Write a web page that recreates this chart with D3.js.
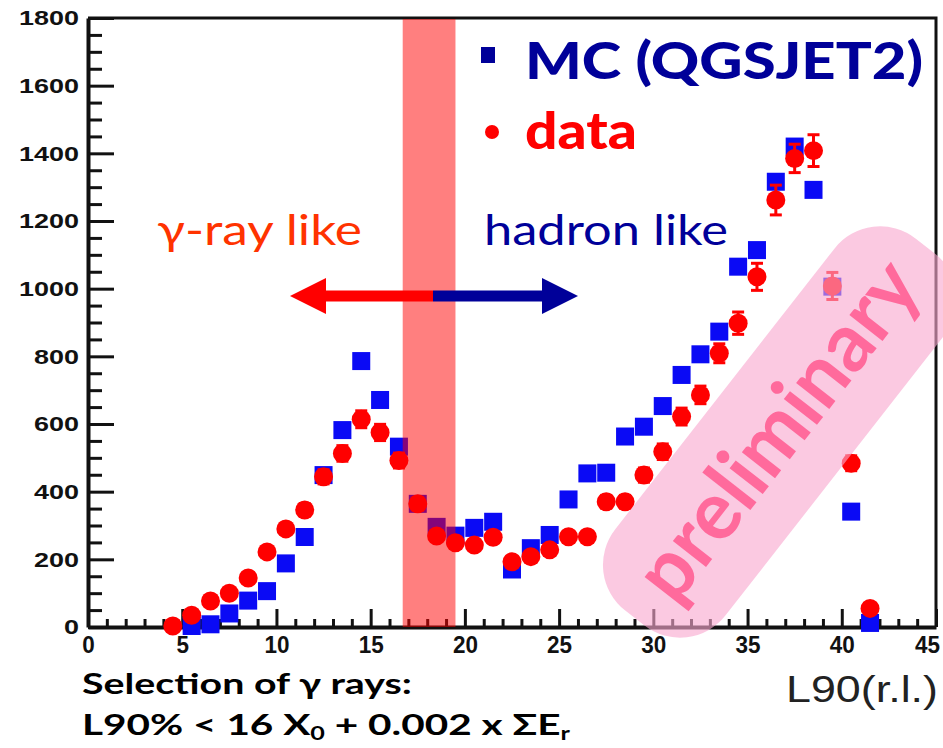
<!DOCTYPE html>
<html lang="en">
<head>
    <meta charset="UTF-8">
    <title>L90 distribution: MC vs data</title>
    <script src="https://d3js.org/d3.v7.min.js"></script>
    <style>
        body {
            margin: 0;
            background: #fff;
        }
        svg {
            display: block;
        }
        .lbl {
            font-family: Lato, "DejaVu Sans", sans-serif;
        }
    </style>
</head>
<body>
    <div id="chart"></div>
    <script>
        // bin centres along L90 (r.l.)
        const mcBins = [5.5, 6.5, 7.5, 8.5, 9.5, 10.5, 11.5, 12.5, 13.5, 14.5, 15.5, 16.5, 17.5, 18.5, 19.5,
            20.5, 21.5, 22.5, 23.5, 24.5, 25.5, 26.5, 27.5, 28.5, 29.5, 30.5, 31.5, 32.5, 33.5, 34.5,
            35.5, 36.5, 37.5, 38.5, 39.5, 40.5, 41.5];
        const mcCounts = [3, 8, 40, 78, 106, 188, 266, 449, 582, 786, 671, 533, 364, 296, 270,
            293, 311, 170, 233, 272, 377, 454, 456, 563, 592, 653, 745, 806, 873, 1065,
            1114, 1316, 1420, 1292, 1006, 341, 12];

        const dataBins = [4.5, 5.5, 6.5, 7.5, 8.5, 9.5, 10.5, 11.5, 12.5, 13.5, 14.5, 15.5, 16.5, 17.5, 18.5,
            19.5, 20.5, 21.5, 22.5, 23.5, 24.5, 25.5, 26.5, 27.5, 28.5, 29.5, 30.5, 31.5, 32.5, 33.5,
            34.5, 35.5, 36.5, 37.5, 38.5, 39.5, 40.5, 41.5];
        const dataCounts = [3, 35, 77, 100, 145, 222, 290, 346, 444, 513, 614, 575, 492, 364, 269,
            249, 242, 265, 193, 208, 228, 267, 267, 370, 370, 449, 518, 622, 686, 809,
            898, 1035, 1262, 1385, 1408, 1008, 484, 55];
        const dataErrors = [2, 6, 9, 10, 12, 15, 17, 19, 21, 23, 25, 24, 22, 19, 16,
            16, 16, 16, 14, 14, 15, 16, 16, 19, 19, 21, 23, 25, 26, 28,
            33, 40, 44, 42, 47, 40, 22, 7];

        const xTicks = [0, 5, 10, 15, 20, 25, 30, 35, 40, 45];
        const yTicks = [0, 200, 400, 600, 800, 1000, 1200, 1400, 1600, 1800];
        const cutBand = [16.7, 19.5];

        const W = 943, H = 748;
        const pLeft = 88, pRight = 936, pTop = 18, pBottom = 627;

        const svg = d3.select('#chart').append('svg')
            .attr('width', W)
            .attr('height', H);

        const x = d3.scaleLinear().domain([0, 45]).range([pLeft, pRight]);
        const y = d3.scaleLinear().domain([0, 1800]).range([pBottom, pTop]);

        // frame (top / right)
        svg.append('path')
            .attr('d', `M${pLeft},${pTop}H${pRight}V${pBottom}`)
            .attr('fill', 'none')
            .attr('stroke', '#111')
            .attr('stroke-width', 3);

        // minor ticks
        const minorX = d3.range(0, 46).filter(v => v % 5 !== 0);
        const minorY = d3.range(0, 1801, 50).filter(v => v % 200 !== 0);

        svg.append('g')
            .attr('transform', `translate(0,${pBottom})`)
            .call(d3.axisBottom(x).tickValues(minorX).tickSize(-8).tickSizeOuter(0).tickFormat(''))
            .call(g => g.select('.domain').remove())
            .selectAll('line').attr('stroke', '#111').attr('stroke-width', 3);

        svg.append('g')
            .attr('transform', `translate(${pLeft},0)`)
            .call(d3.axisLeft(y).tickValues(minorY).tickSize(-14).tickSizeOuter(0).tickFormat(''))
            .call(g => g.select('.domain').remove())
            .selectAll('line').attr('stroke', '#111').attr('stroke-width', 3);

        // major axes
        const xAxis = svg.append('g')
            .attr('transform', `translate(0,${pBottom})`)
            .call(d3.axisBottom(x).tickValues(xTicks).tickFormat(d3.format('d'))
                .tickSize(-18).tickSizeOuter(0).tickPadding(9));
        xAxis.select('.domain').attr('stroke', '#111').attr('stroke-width', 4);
        xAxis.selectAll('line').attr('stroke', '#111').attr('stroke-width', 3);
        xAxis.selectAll('text')
            .attr('font-family', '"Liberation Sans", Arial, sans-serif')
            .attr('font-weight', 'bold')
            .attr('font-size', 24)
            .attr('fill', '#111')
            .attr('dx', d => d === 45 ? -9 : 0)
            .attr('textLength', d => String(d).length * 12.5)
            .attr('lengthAdjust', 'spacingAndGlyphs');

        const yAxis = svg.append('g')
            .attr('transform', `translate(${pLeft},0)`)
            .call(d3.axisLeft(y).tickValues(yTicks).tickFormat(d3.format('d'))
                .tickSize(-26).tickSizeOuter(0).tickPadding(9));
        yAxis.select('.domain').attr('stroke', '#111').attr('stroke-width', 4);
        yAxis.selectAll('line').attr('stroke', '#111').attr('stroke-width', 3);
        yAxis.selectAll('text')
            .attr('font-family', '"Liberation Sans", Arial, sans-serif')
            .attr('font-weight', 'bold')
            .attr('font-size', 21)
            .attr('fill', '#111')
            .attr('textLength', d => String(d).length * 15)
            .attr('lengthAdjust', 'spacingAndGlyphs');

        // MC squares
        const sq = 18;
        svg.append('g').selectAll('rect')
            .data(mcBins.map((b, i) => [b, mcCounts[i]]))
            .join('rect')
            .attr('x', d => x(d[0]) - sq / 2)
            .attr('y', d => y(d[1]) - sq / 2)
            .attr('width', sq)
            .attr('height', sq)
            .attr('fill', '#0a0af5');

        // data points with error bars
        const pts = dataBins.map((b, i) => ({ b, v: dataCounts[i], e: dataErrors[i] }));
        const eb = svg.append('g').attr('stroke', '#f00').attr('stroke-width', 3);
        eb.selectAll('line.v').data(pts).join('line')
            .attr('class', 'v')
            .attr('x1', d => x(d.b)).attr('x2', d => x(d.b))
            .attr('y1', d => y(d.v - d.e)).attr('y2', d => y(d.v + d.e));
        eb.selectAll('line.t').data(pts).join('line')
            .attr('class', 't')
            .attr('x1', d => x(d.b) - 6).attr('x2', d => x(d.b) + 6)
            .attr('y1', d => y(d.v + d.e)).attr('y2', d => y(d.v + d.e));
        eb.selectAll('line.b').data(pts).join('line')
            .attr('class', 'b')
            .attr('x1', d => x(d.b) - 6).attr('x2', d => x(d.b) + 6)
            .attr('y1', d => y(d.v - d.e)).attr('y2', d => y(d.v - d.e));

        svg.append('g').selectAll('circle')
            .data(pts)
            .join('circle')
            .attr('cx', d => x(d.b))
            .attr('cy', d => y(d.v))
            .attr('r', 9.5)
            .attr('fill', '#f00');

        // selection cut band
        svg.append('rect')
            .attr('x', x(cutBand[0]))
            .attr('y', pTop + 1)
            .attr('width', x(cutBand[1]) - x(cutBand[0]))
            .attr('height', pBottom - pTop - 1)
            .attr('fill', 'rgba(255,0,0,0.5)');

        // arrows
        const arrowY = 296, mid = 433;
        svg.append('rect').attr('x', 320).attr('y', arrowY - 5.5).attr('width', mid - 320).attr('height', 11).attr('fill', '#f00');
        svg.append('path').attr('d', `M290,${arrowY}L326,${arrowY - 18}L326,${arrowY + 18}Z`).attr('fill', '#f00');
        svg.append('rect').attr('x', mid).attr('y', arrowY - 5.5).attr('width', 545 - mid).attr('height', 11).attr('fill', '#000099');
        svg.append('path').attr('d', `M578,${arrowY}L542,${arrowY - 18}L542,${arrowY + 18}Z`).attr('fill', '#000099');

        svg.append('text').attr('class', 'lbl')
            .attr('x', 157).attr('y', 245)
            .attr('font-size', 42)
            .attr('fill', '#ff3300')
            .attr('textLength', 205).attr('lengthAdjust', 'spacingAndGlyphs')
            .text('γ-ray like');
        svg.append('text').attr('class', 'lbl')
            .attr('x', 484).attr('y', 245)
            .attr('font-size', 42)
            .attr('fill', '#000099')
            .attr('textLength', 244).attr('lengthAdjust', 'spacingAndGlyphs')
            .text('hadron like');

        // legend
        svg.append('rect').attr('x', 481).attr('y', 47).attr('width', 14).attr('height', 16).attr('fill', '#000099');
        svg.append('text').attr('class', 'lbl')
            .attr('x', 525).attr('y', 79)
            .attr('font-size', 52).attr('font-weight', 900)
            .attr('fill', '#000099')
            .attr('textLength', 398).attr('lengthAdjust', 'spacingAndGlyphs')
            .text('MC (QGSJET2)');
        svg.append('circle').attr('cx', 492).attr('cy', 132).attr('r', 7).attr('fill', '#f00');
        svg.append('text').attr('class', 'lbl')
            .attr('x', 525).attr('y', 149)
            .attr('font-size', 52).attr('font-weight', 900)
            .attr('fill', '#f00')
            .attr('textLength', 112).attr('lengthAdjust', 'spacingAndGlyphs')
            .text('data');

        // x title and selection note
        svg.append('text')
            .attr('x', 938).attr('y', 702)
            .attr('text-anchor', 'end')
            .attr('font-family', '"Liberation Sans Narrow", "Liberation Sans", Arial, sans-serif')
            .attr('font-size', 36)
            .attr('fill', '#222')
            .attr('textLength', 152).attr('lengthAdjust', 'spacingAndGlyphs')
            .text('L90(r.l.)');

        svg.append('text').attr('class', 'lbl')
            .attr('x', 82).attr('y', 694)
            .attr('font-size', 28).attr('font-weight', 'bold')
            .attr('fill', '#000')
            .attr('textLength', 330).attr('lengthAdjust', 'spacingAndGlyphs')
            .text('Selection of γ rays:');

        const f = svg.append('text').attr('class', 'lbl')
            .attr('x', 82).attr('y', 735)
            .attr('font-size', 29).attr('font-weight', 'bold')
            .attr('fill', '#000')
            .attr('textLength', 488).attr('lengthAdjust', 'spacingAndGlyphs');
        f.append('tspan').text('L90% < 16 X');
        f.append('tspan').attr('dy', 5).attr('font-size', 18).text('0');
        f.append('tspan').attr('dy', -5).text(' + 0.002 x ΣE');
        f.append('tspan').attr('dy', 5).attr('font-size', 18).text('r');

        // preliminary stamp
        const stamp = svg.append('g').attr('transform', 'translate(780,432) rotate(-52)');
        stamp.append('rect')
            .attr('x', -236).attr('y', -70)
            .attr('width', 472).attr('height', 140)
            .attr('rx', 58)
            .attr('fill', 'rgba(249,168,207,0.62)');
        stamp.append('text').attr('class', 'lbl')
            .attr('x', 0).attr('y', 0).attr('dy', '0.3em')
            .attr('text-anchor', 'middle')
            .attr('font-size', 82)
            .attr('font-weight', 'bold')
            .attr('fill', '#ff6a9c')
            .attr('textLength', 405).attr('lengthAdjust', 'spacingAndGlyphs')
            .text('preliminary');
    </script>
</body>
</html>
